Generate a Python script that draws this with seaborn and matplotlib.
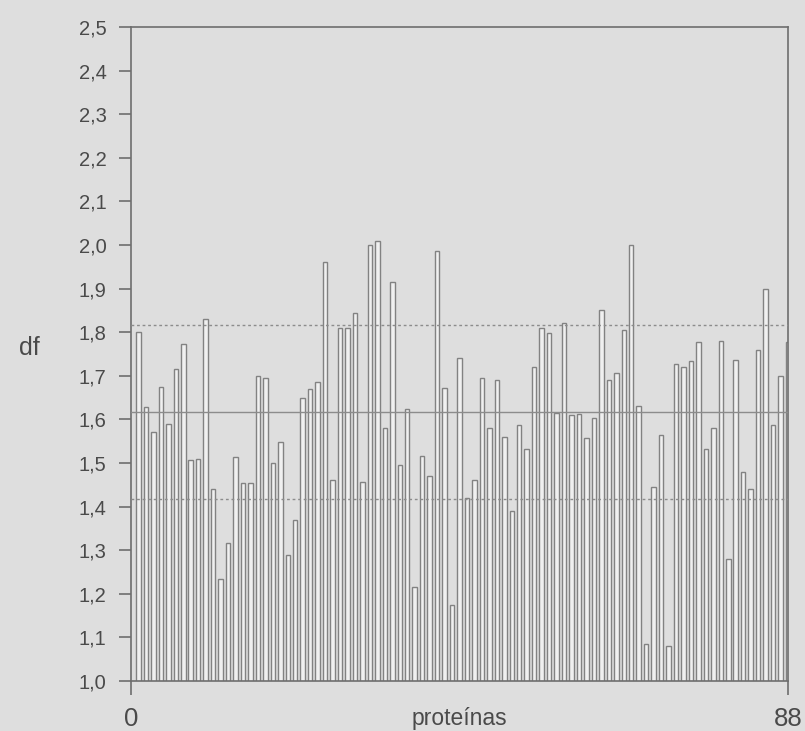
import numpy as np
import pandas as pd
import seaborn as sns
import matplotlib.pyplot as plt
from matplotlib.ticker import FuncFormatter

# fractal dimension (df) for each of the 88 proteins
protein = list(range(1, 89))
df_values = [
    1.80, 1.628, 1.572, 1.675, 1.59, 1.716, 1.772, 1.506, 1.51, 1.83,
    1.44, 1.235, 1.317, 1.514, 1.453, 1.453, 1.70, 1.694, 1.50, 1.548,
    1.29, 1.37, 1.648, 1.67, 1.686, 1.96, 1.462, 1.81, 1.81, 1.845,
    1.456, 2.00, 2.01, 1.58, 1.914, 1.495, 1.623, 1.215, 1.515, 1.47,
    1.986, 1.672, 1.175, 1.74, 1.42, 1.462, 1.694, 1.58, 1.69, 1.56,
    1.39, 1.588, 1.533, 1.72, 1.81, 1.798, 1.615, 1.822, 1.61, 1.613,
    1.558, 1.604, 1.85, 1.69, 1.707, 1.805, 2.00, 1.63, 1.085, 1.446,
    1.564, 1.08, 1.727, 1.72, 1.735, 1.778, 1.533, 1.58, 1.78, 1.28,
    1.736, 1.48, 1.44, 1.76, 1.90, 1.587, 1.70, 1.778,
]
mean_df = 1.617
band = 0.2

bg = "#dedede"
edge = "#828282"
txt = "#4a4a4a"

sns.set_theme(style="ticks")
plt.rcParams['font.family'] = ['Liberation Sans', 'DejaVu Sans']

data = pd.DataFrame({"protein": protein, "df": df_values})

fig = plt.figure(figsize=(8.05, 7.31), dpi=100, facecolor=bg)
ax = fig.add_axes([131 / 805, 1 - 681 / 731, (788 - 131) / 805, (681 - 27) / 731])
ax.set_facecolor(bg)

sns.barplot(data=data, x="protein", y="df", native_scale=True, width=0.6,
            color="#f0f0f0", saturation=1, edgecolor=edge, linewidth=1.0,
            errorbar=None, ax=ax)

# mean and +/- band
ax.axhline(mean_df, color="#8c8c8c", lw=1.0, zorder=3)
ax.axhline(mean_df + band, color="#8c8c8c", lw=1.0, ls=(0, (2, 2)), zorder=3)
ax.axhline(mean_df - band, color="#8c8c8c", lw=1.0, ls=(0, (2, 2)), zorder=3)

ax.set_xlim(0, 88)
ax.set_ylim(1.0, 2.5)
ax.set_yticks(np.arange(1.0, 2.51, 0.1))
ax.yaxis.set_major_formatter(FuncFormatter(lambda v, p: f"{v:.1f}".replace(".", ",")))
ax.set_xticks([0, 88])
ax.set_xticklabels(["0", "88"])

for s in ax.spines.values():
    s.set_color("#6e6e6e")
    s.set_linewidth(1.2)
    s.set_visible(True)

ax.tick_params(axis="y", length=8.6, width=1.2, color="#6e6e6e", pad=9,
               labelsize=14.5, labelcolor=txt)
ax.tick_params(axis="x", length=10, width=1.2, color="#6e6e6e", pad=9,
               labelsize=18.5, labelcolor=txt)

ax.set_xlabel("proteínas", fontsize=16.5, color=txt)
ax.xaxis.set_label_coords(0.5, -0.039)
ax.set_ylabel("df", fontsize=18, color=txt, rotation=0, va="center", ha="center")
ax.yaxis.set_label_coords(-0.154, 0.509)

fig.savefig("out.png", dpi=100, facecolor=bg)
